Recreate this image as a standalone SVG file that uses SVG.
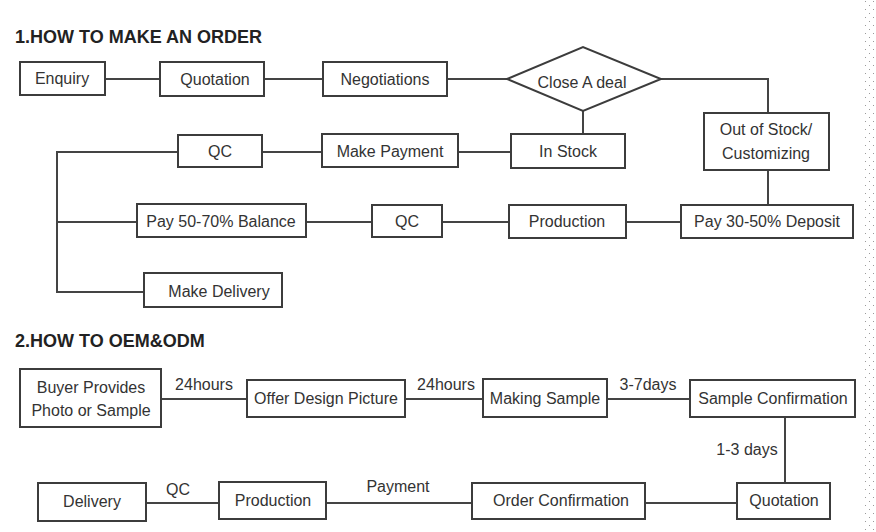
<svg xmlns="http://www.w3.org/2000/svg" width="876" height="532" viewBox="0 0 876 532">
<defs>
<pattern id="dots" x="0" y="0" width="8" height="8" patternUnits="userSpaceOnUse">
<rect x="1" y="1" width="1" height="1" fill="#9a9a9a"/>
<rect x="5" y="5" width="1" height="1" fill="#9a9a9a"/>
</pattern>
</defs>
<style>
.box{fill:#fff;stroke:#3c3c3c;stroke-width:2}
.t{font-family:"Liberation Sans",Arial,sans-serif;font-size:16px;fill:#333;text-anchor:middle}
.h{font-family:"Liberation Sans",Arial,sans-serif;font-size:18px;font-weight:bold;fill:#222}
.c{fill:none;stroke:#444;stroke-width:2}
</style>
<rect width="876" height="532" fill="#fff"/>
<rect x="862" y="0" width="14" height="532" fill="url(#dots)"/>
<text class="h" x="15" y="43">1.HOW TO MAKE AN ORDER</text>
<text class="h" x="15" y="347">2.HOW TO OEM&amp;ODM</text>

<g id="connectors">
<path class="c" d="M105 79H160M264 79H323M447 79H507M661 79H768V113M768 170V205M681 222H626M509 222H442M372 222H306M583 111V134M511 152H458M322 152H262M178 152H57V292H144M57 222H137"/>
<path class="c" d="M161 399H247M405 399H483M607 399H690M785 417V483M737 503H645M472 503H326M219 503H146"/>
</g>

<g id="enquiry"><rect class="box" x="20" y="62" width="85" height="33"/><text class="t" x="62" y="84">Enquiry</text></g>
<g id="quotation1"><rect class="box" x="160" y="62" width="104" height="34"/><text class="t" x="215" y="85">Quotation</text></g>
<g id="negotiations"><rect class="box" x="323" y="62" width="124" height="34"/><text class="t" x="385" y="85">Negotiations</text></g>
<g id="close-deal"><polygon class="box" points="507,79 583,47 661,79 583,111"/><text class="t" x="582" y="88">Close A deal</text></g>
<g id="out-of-stock"><rect class="box" x="704" y="113" width="125" height="57"/><text class="t" x="766" y="135">Out of Stock/</text><text class="t" x="766" y="159">Customizing</text></g>
<g id="in-stock"><rect class="box" x="511" y="134" width="114" height="34"/><text class="t" x="568" y="157">In Stock</text></g>
<g id="make-payment"><rect class="box" x="322" y="134" width="136" height="33"/><text class="t" x="390" y="157">Make Payment</text></g>
<g id="qc1"><rect class="box" x="178" y="135" width="84" height="32"/><text class="t" x="220" y="157">QC</text></g>
<g id="deposit"><rect class="box" x="681" y="205" width="172" height="33"/><text class="t" x="767" y="227">Pay 30-50% Deposit</text></g>
<g id="production1"><rect class="box" x="509" y="205" width="117" height="33"/><text class="t" x="567" y="227">Production</text></g>
<g id="qc2"><rect class="box" x="372" y="205" width="70" height="32"/><text class="t" x="407" y="227">QC</text></g>
<g id="balance"><rect class="box" x="137" y="204" width="169" height="33"/><text class="t" x="221" y="227">Pay 50-70% Balance</text></g>
<g id="make-delivery"><rect class="box" x="144" y="273" width="138" height="34"/><text class="t" x="219" y="297">Make Delivery</text></g>

<g id="buyer"><rect class="box" x="20" y="369" width="141" height="58"/><text class="t" x="91" y="393">Buyer Provides</text><text class="t" x="91" y="416">Photo or Sample</text></g>
<g id="offer-design"><rect class="box" x="247" y="380" width="158" height="37"/><text class="t" x="326" y="404">Offer Design Picture</text></g>
<g id="making-sample"><rect class="box" x="483" y="379" width="124" height="38"/><text class="t" x="545" y="404">Making Sample</text></g>
<g id="sample-confirmation"><rect class="box" x="690" y="380" width="165" height="37"/><text class="t" x="773" y="404">Sample Confirmation</text></g>
<g id="quotation2"><rect class="box" x="737" y="483" width="93" height="36"/><text class="t" x="784" y="506">Quotation</text></g>
<g id="order-confirmation"><rect class="box" x="472" y="483" width="173" height="36"/><text class="t" x="561" y="506">Order Confirmation</text></g>
<g id="production2"><rect class="box" x="219" y="482" width="107" height="37"/><text class="t" x="273" y="506">Production</text></g>
<g id="delivery"><rect class="box" x="38" y="483" width="108" height="38"/><text class="t" x="92" y="507">Delivery</text></g>

<g id="labels">
<text class="t" x="204" y="390">24hours</text>
<text class="t" x="446" y="390">24hours</text>
<text class="t" x="648" y="390">3-7days</text>
<text class="t" x="747" y="455">1-3 days</text>
<text class="t" x="178" y="495">QC</text>
<text class="t" x="398" y="492">Payment</text>
</g>
</svg>
